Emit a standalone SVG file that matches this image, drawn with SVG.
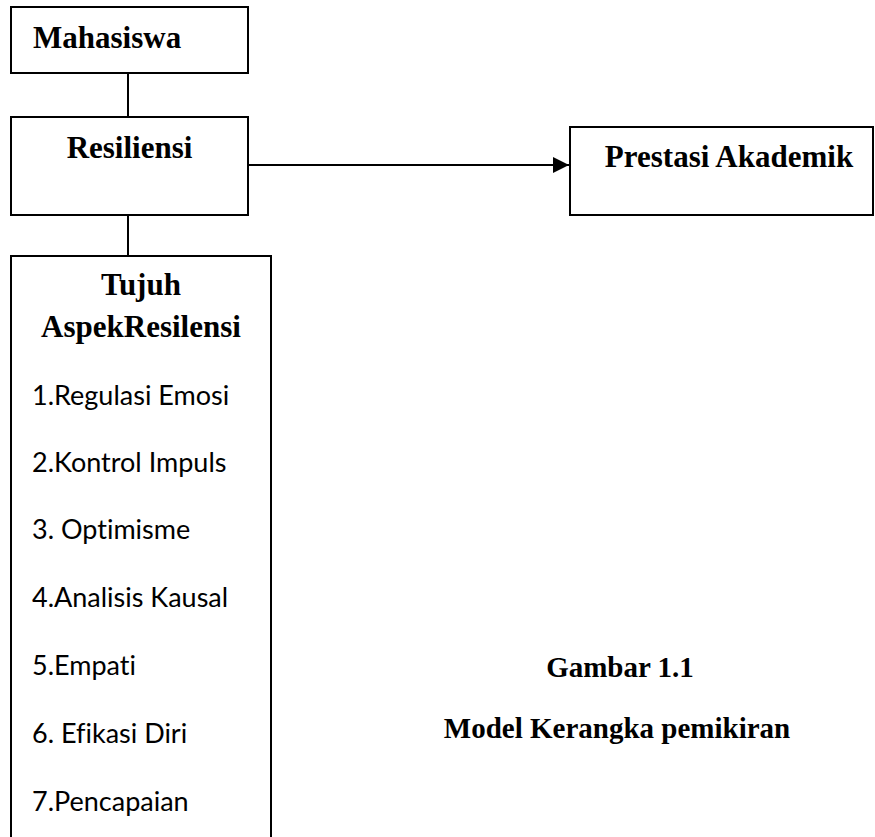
<svg xmlns="http://www.w3.org/2000/svg" width="875" height="837" viewBox="0 0 875 837">
<style>
.box{fill:#fff;stroke:#000;stroke-width:2}
.t{font-family:"Liberation Serif","Times New Roman",serif;font-weight:bold;font-size:31px;fill:#000}
.c{font-family:"Liberation Serif","Times New Roman",serif;font-weight:bold;font-size:29px;fill:#000}
.l{font-family:Lato,"Liberation Sans",sans-serif;font-size:27px;fill:#000;font-variant-ligatures:none;font-feature-settings:"liga" 0,"dlig" 0}
.ln{stroke:#000;stroke-width:2;fill:none}
</style>
<defs>
<marker id="ah" markerWidth="16" markerHeight="16" refX="16" refY="8" orient="auto" markerUnits="userSpaceOnUse">
<path d="M0,0 L16,8 L0,16 Z" fill="#000"/>
</marker>
</defs>
<rect width="875" height="837" fill="#fff"/>
<g id="connectors">
<line class="ln" x1="128" y1="73" x2="128" y2="117"/>
<line class="ln" x1="128" y1="215" x2="128" y2="257"/>
<line class="ln" x1="248" y1="165" x2="569" y2="165" marker-end="url(#ah)"/>
</g>
<g id="mahasiswa">
<rect class="box" x="11" y="7" width="237" height="66"/>
<text class="t" x="33" y="48">Mahasiswa</text>
</g>
<g id="resiliensi">
<rect class="box" x="11" y="117" width="237" height="98"/>
<text class="t" x="129.5" y="158" text-anchor="middle">Resiliensi</text>
</g>
<g id="prestasi">
<rect class="box" x="570" y="127" width="303" height="88"/>
<text class="t" x="729" y="167" text-anchor="middle">Prestasi Akademik</text>
</g>
<g id="aspek">
<rect class="box" x="11" y="256" width="260" height="600"/>
<text class="t" x="141" y="295" text-anchor="middle">Tujuh</text>
<text class="t" x="141" y="337" text-anchor="middle">AspekResilensi</text>
<text class="l" x="32" y="405">1.Regulasi Emosi</text>
<text class="l" x="32" y="472">2.Kontrol Impuls</text>
<text class="l" x="32" y="539">3. Optimisme</text>
<text class="l" x="32" y="607">4.Analisis Kausal</text>
<text class="l" x="32" y="675">5.Empati</text>
<text class="l" x="32" y="743">6. Efikasi Diri</text>
<text class="l" x="32" y="811">7.Pencapaian</text>
</g>
<g id="caption">
<text class="c" x="620" y="677" text-anchor="middle">Gambar 1.1</text>
<text class="c" x="617" y="738" text-anchor="middle">Model Kerangka pemikiran</text>
</g>
</svg>
